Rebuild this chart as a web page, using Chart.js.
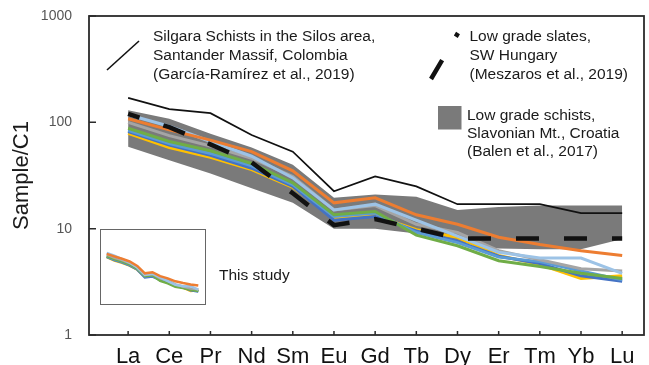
<!DOCTYPE html>
<html>
<head>
<title>REE patterns</title>
<style>
  body { margin: 0; background: #fff; }
  #wrap { position: relative; width: 649px; height: 365px; }
  #wrap canvas { display: block; }
  #inset { position: absolute; left: 100px; top: 229px; width: 106px; height: 76px; border: 1px solid #666; box-sizing: border-box; background: #fff; }
</style>
</head>
<body>
<div id="wrap">
  <canvas id="ree" width="649" height="365"></canvas>
  <div id="inset"><canvas id="ree-small" width="104" height="74"></canvas></div>
</div>

<script src="https://cdn.jsdelivr.net/npm/chart.js"></script>
<script>
// chondrite-normalised REE values
const elements = ['La', 'Ce', 'Pr', 'Nd', 'Sm', 'Eu', 'Gd', 'Tb', 'Dy', 'Er', 'Tm', 'Yb', 'Lu'];
const yTicks = [1, 10, 100, 1000];

const silgara = [170, 133, 122, 76, 53, 22.5, 31, 25, 17, 17, 17, 14, 14];
const hungary = [120, 90, 62, 42, 21.5, 10.8, 12.3, 10, 8.1, 8.1, 8.1, 8.1, 8.1];
const croatiaMax = [130, 108, 78, 58, 40, 19.5, 21, 20, 15, 16, 16.5, 16.5, 16.5];
const croatiaMin = [59, 44, 33, 24, 17.5, 10, 10, 9, 7.5, 6.5, 6.4, 6.4, 8];

const sampleA = [108, 85, 68, 53, 35, 17.5, 19.5, 13.5, 11, 8.3, 7.1, 6.2, 5.6];
const sampleB = [118, 92, 66, 48, 30, 15, 17, 12, 8.5, 6.0, 5.3, 5.3, 3.8];
const sampleC = [100, 75, 60, 46, 31, 15, 16.5, 11, 9.2, 6.2, 5.1, 4.2, 4.0];
const sampleD = [88, 66, 54, 41, 27, 13.5, 14.5, 8.7, 6.9, 5.0, 4.4, 3.8, 3.4];
const sampleE = [84, 63, 51, 39, 26, 13, 14, 9.2, 7.4, 5.4, 4.9, 4.0, 3.3];
const sampleF = [82, 61, 49, 37, 25, 12, 13, 9.5, 7.6, 5.5, 4.7, 3.6, 3.2];
const sampleG = [79, 58, 47, 36, 24.5, 12.7, 13.2, 9.8, 8.3, 5.6, 4.6, 3.4, 3.6];

const samples = [
  { data: sampleA, color: '#ED7D31' },
  { data: sampleB, color: '#9DC3E6' },
  { data: sampleC, color: '#A5A5A5' },
  { data: sampleD, color: '#70AD47' },
  { data: sampleE, color: '#5B9BD5' },
  { data: sampleF, color: '#4472C4' },
  { data: sampleG, color: '#FFC000' }
];

const FONT = "'Liberation Sans', Arial, sans-serif";
const BAND = 'rgb(122,122,122)';

function pts(values) {
  return values.map((v, i) => ({ x: i, y: v }));
}

function sampleSets(width) {
  return samples.map(s => ({
    data: pts(s.data), borderColor: s.color, borderWidth: width,
    fill: false, order: 5
  }));
}

// box around the plot plus short inward ticks
const frame = {
  id: 'frame',
  beforeDatasetsDraw(chart) {
    const { ctx, chartArea: a, scales } = chart;
    ctx.save();
    ctx.strokeStyle = '#2b2b2b';
    ctx.lineWidth = 1.8;
    ctx.strokeRect(a.left, a.top, a.right - a.left, a.bottom - a.top);
    ctx.lineWidth = 1.5;
    ctx.beginPath();
    scales.x.ticks.forEach(t => {
      const x = scales.x.getPixelForValue(t.value);
      ctx.moveTo(x, a.bottom);
      ctx.lineTo(x, a.bottom - 4);
    });
    scales.y.ticks.forEach(t => {
      const y = scales.y.getPixelForValue(t.value);
      ctx.moveTo(a.left, y);
      ctx.lineTo(a.left + 7, y);
    });
    ctx.stroke();
    ctx.restore();
  }
};

// reference field keys
const keys = {
  id: 'keys',
  afterDraw(chart) {
    const ctx = chart.ctx;
    ctx.save();
    ctx.fillStyle = '#1a1a1a';
    ctx.font = '15.5px ' + FONT;
    ctx.textBaseline = 'alphabetic';
    ctx.textAlign = 'left';

    ctx.strokeStyle = '#111';
    ctx.lineWidth = 1.6;
    ctx.beginPath();
    ctx.moveTo(107, 70);
    ctx.lineTo(139, 41);
    ctx.stroke();
    ['Silgara Schists in the Silos area,', 'Santander Massif, Colombia', '(García-Ramírez et al., 2019)']
      .forEach((t, i) => ctx.fillText(t, 153, 40.5 + i * 19));

    ctx.lineWidth = 4.5;
    ctx.setLineDash([22, 27]);
    ctx.beginPath();
    ctx.moveTo(431, 79);
    ctx.lineTo(458, 33);
    ctx.stroke();
    ctx.setLineDash([]);
    ['Low grade slates,', 'SW Hungary', '(Meszaros et al., 2019)']
      .forEach((t, i) => ctx.fillText(t, 469.5, 40.5 + i * 19));

    ctx.fillStyle = BAND;
    ctx.fillRect(438, 106, 23.5, 23.5);
    ctx.fillStyle = '#1a1a1a';
    ['Low grade schists,', 'Slavonian Mt., Croatia', '(Balen et al., 2017)']
      .forEach((t, i) => ctx.fillText(t, 467, 119.5 + i * 18.3));

    ctx.fillText('This study', 219, 280);
    ctx.restore();
  }
};

new Chart(document.getElementById('ree'), {
  type: 'line',
  data: {
    datasets: [
      { data: pts(hungary), borderColor: '#111', borderWidth: 4.5, borderDash: [23, 25], borderDashOffset: 11, fill: false, order: 1 },
      { data: pts(silgara), borderColor: '#111', borderWidth: 1.7, fill: false, order: 2 },
      ...sampleSets(3),
      { data: pts(croatiaMax), borderWidth: 0, fill: false, order: 9 },
      { data: pts(croatiaMin), borderWidth: 0, backgroundColor: BAND, fill: '-1', order: 10 }
    ]
  },
  options: {
    responsive: false,
    animation: false,
    devicePixelRatio: 1,
    layout: { padding: { top: 16, right: 5, left: 0, bottom: 0 } },
    elements: { point: { radius: 0 }, line: { tension: 0 } },
    plugins: { legend: { display: false }, tooltip: { enabled: false } },
    scales: {
      x: {
        type: 'linear', min: -0.95, max: 12.53,
        afterBuildTicks: s => { s.ticks = elements.map((e, i) => ({ value: i })); },
        afterFit: s => { s.height = 30; },
        grid: { display: false, drawTicks: false },
        border: { display: false },
        ticks: {
          callback: v => elements[v], autoSkip: false, maxRotation: 0,
          font: { family: FONT, size: 22 }, color: '#111', padding: 9
        }
      },
      y: {
        type: 'logarithmic', min: 1, max: 1000,
        afterBuildTicks: s => { s.ticks = yTicks.map(v => ({ value: v })); },
        afterFit: s => { s.width = 89; s.paddingTop = 0; s.paddingBottom = 0; },
        grid: { display: false, drawTicks: false },
        border: { display: false },
        ticks: {
          callback: v => String(v),
          font: { family: FONT, size: 14 }, color: '#555', padding: 17
        },
        title: {
          display: true, text: 'Sample/C1', color: '#1a1a1a',
          font: { family: FONT, size: 22 }, padding: { top: 9, bottom: 0 }
        }
      }
    }
  },
  plugins: [frame, keys]
});

// small overview of the samples alone
new Chart(document.getElementById('ree-small'), {
  type: 'line',
  data: { datasets: sampleSets(2.5) },
  options: {
    responsive: false,
    animation: false,
    devicePixelRatio: 1,
    layout: { padding: 0 },
    elements: { point: { radius: 0 }, line: { tension: 0 } },
    plugins: { legend: { display: false }, tooltip: { enabled: false } },
    scales: {
      x: { type: 'linear', min: -0.75, max: 12.88, display: false },
      y: { type: 'logarithmic', min: 1, max: 1000, display: false }
    }
  }
});
</script>
</body>
</html>
